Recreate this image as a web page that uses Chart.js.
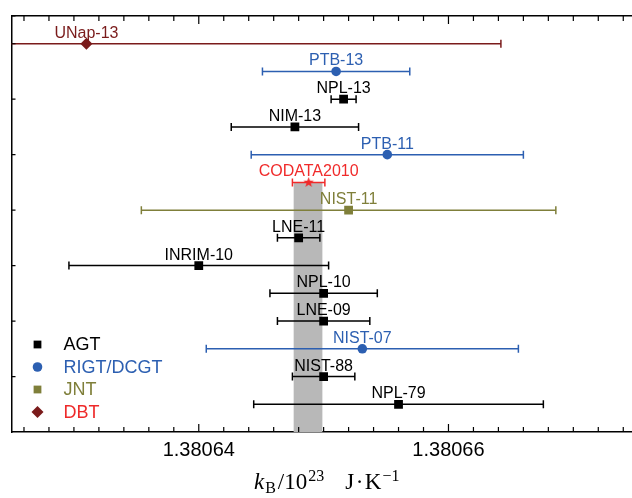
<!DOCTYPE html>
<html>
<head>
<meta charset="utf-8">
<script src="https://cdn.jsdelivr.net/npm/chart.js@4.4.1/dist/chart.umd.min.js"></script>
<style>
  html, body { margin: 0; padding: 0; background: #fff; overflow: hidden; }
  #wrap { width: 632px; height: 498px; }
</style>
</head>
<body>
<div id="wrap"><canvas id="chart" width="632" height="498"></canvas></div>
<script>
// measurements of the Boltzmann constant, top row first
const names = ['UNap-13', 'PTB-13', 'NPL-13', 'NIM-13', 'PTB-11', 'CODATA2010', 'NIST-11',
               'LNE-11', 'INRIM-10', 'NPL-10', 'LNE-09', 'NIST-07', 'NIST-88', 'NPL-79'];
const kB = [1.3806310, 1.3806510, 1.3806516, 1.3806477, 1.3806551, 1.3806488, 1.3806520,
            1.3806480, 1.3806400, 1.3806500, 1.3806500, 1.3806531, 1.3806500, 1.3806560];
const uKB = [0.0000332, 0.0000059, 0.0000010, 0.0000051, 0.0000109, 0.0000013, 0.0000166,
             0.0000017, 0.0000104, 0.0000043, 0.0000037, 0.0000125, 0.0000025, 0.0000116];
const methods = ['DBT', 'RIGT/DCGT', 'AGT', 'AGT', 'RIGT/DCGT', 'CODATA', 'JNT',
                 'AGT', 'AGT', 'AGT', 'AGT', 'RIGT/DCGT', 'AGT', 'AGT'];
const rowPos = [14, 13, 12, 11, 10, 9, 8, 7, 6, 5, 4, 3, 2, 1];
const legendNames = ['AGT', 'RIGT/DCGT', 'JNT', 'DBT'];
const xTickLabels = [1.38064, 1.38066];
const bandLo = 1.3806476, bandHi = 1.3806499;

const xMin = 1.380625, xMax = 1.3806747;
const fontSans = '"Liberation Sans", Arial, Helvetica, sans-serif';
const fontSerif = '"Liberation Serif", "Times New Roman", serif';

function makeStar(color, outer, inner) {
    const c = document.createElement('canvas');
    const s = Math.ceil(outer * 2) + 2;
    c.width = s; c.height = s;
    const g = c.getContext('2d');
    g.fillStyle = color;
    g.beginPath();
    for (let i = 0; i < 10; i++) {
        const r = i % 2 ? inner : outer;
        const a = -Math.PI / 2 + i * Math.PI / 5;
        g.lineTo(s / 2 + r * Math.cos(a), s / 2 + r * Math.sin(a));
    }
    g.closePath();
    g.fill();
    return c;
}

const methodStyle = {
    'AGT':       { color: '#000000', legendText: '#000000', shape: 'rect',    r: 6.2, lr: 5.5 },
    'RIGT/DCGT': { color: '#2c5fb1', legendText: '#2c5fb1', shape: 'circle',  r: 4.8, lr: 4.8 },
    'JNT':       { color: '#7f7f3a', legendText: '#7f7f3a', shape: 'rect',    r: 6.2, lr: 5.5 },
    'DBT':       { color: '#7a1b1b', legendText: '#ee2a2a', shape: 'rectRot', r: 6,   lr: 6 },
    'CODATA':    { color: '#f02a2a', legendText: '#f02a2a', shape: makeStar('#f02a2a', 5.5, 2.3), r: 5, lr: 5 }
};

const datasets = Object.keys(methodStyle).map(m => {
    const st = methodStyle[m];
    return {
        label: m,
        data: names.map((n, i) => ({ x: kB[i], y: rowPos[i], u: uKB[i], name: n, m: methods[i] }))
                   .filter(p => p.m === m),
        pointStyle: st.shape,
        pointRadius: st.r,
        pointBorderWidth: 0,
        backgroundColor: st.color,
        borderColor: st.color,
        showLine: false
    };
});

function isMajor(v) {
    return xTickLabels.find(t => Math.abs(v - t) < 1e-9);
}

const paint = {
    id: 'paint',
    beforeDatasetsDraw(chart) {
        const { ctx, chartArea: a, scales: { x, y } } = chart;
        ctx.save();
        ctx.beginPath();
        ctx.rect(a.left, a.top, a.right - a.left, a.bottom - a.top);
        ctx.clip();
        // CODATA band
        const bandRow = rowPos[methods.indexOf('CODATA')];
        const bx1 = x.getPixelForValue(bandLo), bx2 = x.getPixelForValue(bandHi);
        const by = y.getPixelForValue(bandRow);
        ctx.fillStyle = '#b8b8b8';
        ctx.fillRect(bx1, by, bx2 - bx1, y.getPixelForValue(0) - by);
        // error bars
        chart.data.datasets.forEach(ds => {
            ctx.strokeStyle = ds.borderColor;
            ctx.lineWidth = 1.5;
            ds.data.forEach(p => {
                const x1 = x.getPixelForValue(p.x - p.u);
                const x2 = x.getPixelForValue(p.x + p.u);
                const py = y.getPixelForValue(p.y);
                ctx.beginPath();
                ctx.moveTo(x1, py); ctx.lineTo(x2, py);
                ctx.moveTo(x1, py - 4); ctx.lineTo(x1, py + 4);
                ctx.moveTo(x2, py - 4); ctx.lineTo(x2, py + 4);
                ctx.stroke();
            });
        });
        ctx.restore();
    },
    afterDatasetsDraw(chart) {
        const { ctx, scales: { x, y } } = chart;
        ctx.save();
        ctx.font = '16px ' + fontSans;
        ctx.textAlign = 'center';
        ctx.textBaseline = 'alphabetic';
        chart.data.datasets.forEach(ds => {
            ctx.fillStyle = ds.borderColor;
            ds.data.forEach(p => {
                ctx.fillText(p.name, x.getPixelForValue(p.x), y.getPixelForValue(p.y) - 6);
            });
        });
        ctx.restore();
    },
    afterDraw(chart) {
        const { ctx, chartArea: a, scales: { x, y } } = chart;
        ctx.save();
        // inward ticks
        ctx.strokeStyle = '#000';
        ctx.lineWidth = 1.2;
        ctx.beginPath();
        x.ticks.forEach(t => {
            const px = x.getPixelForValue(t.value);
            const len = isMajor(t.value) ? 8 : 5;
            ctx.moveTo(px, a.bottom); ctx.lineTo(px, a.bottom - len);
            ctx.moveTo(px, a.top); ctx.lineTo(px, a.top + len);
        });
        y.ticks.forEach(t => {
            if (t.value <= 0) return;
            const py = y.getPixelForValue(t.value);
            ctx.moveTo(a.left, py); ctx.lineTo(a.left + 4, py);
        });
        ctx.stroke();

        // legend
        const lx = a.left + 26, ly0 = a.bottom - 87.5, step = 22.5;
        ctx.font = '18px ' + fontSans;
        ctx.textAlign = 'left';
        ctx.textBaseline = 'middle';
        legendNames.forEach((m, i) => {
            const st = methodStyle[m];
            const yy = ly0 + i * step;
            ctx.fillStyle = st.color;
            Chart.helpers.drawPoint(ctx, { pointStyle: st.shape, radius: st.lr, rotation: 0, borderWidth: 0 }, lx, yy);
            ctx.fillStyle = st.legendText;
            ctx.fillText(m, lx + 26, yy + 1);
        });

        // axis title: k_B/10^23 J.K^-1
        const parts = [
            { t: 'k', f: 'italic 23px ' + fontSerif, dy: 0, gap: 1 },
            { t: 'B', f: '16px ' + fontSerif, dy: 4, gap: 2 },
            { t: '/10', f: '23px ' + fontSerif, dy: 0, gap: 1 },
            { t: '23', f: '16px ' + fontSerif, dy: -8, gap: 21 },
            { t: 'J', f: '23px ' + fontSerif, dy: 0, gap: 1.5 },
            { t: '\u00b7', f: '23px ' + fontSerif, dy: 0, gap: 1.5 },
            { t: 'K', f: '23px ' + fontSerif, dy: 0, gap: 1 },
            { t: '\u22121', f: '16px ' + fontSerif, dy: -8, gap: 0 }
        ];
        let total = 0;
        parts.forEach(p => { ctx.font = p.f; p.w = ctx.measureText(p.t).width; total += p.w + p.gap; });
        let tx = 326.7 - total / 2;
        const base = 489;
        ctx.fillStyle = '#000';
        ctx.textBaseline = 'alphabetic';
        parts.forEach(p => {
            ctx.font = p.f;
            ctx.fillText(p.t, tx, base + p.dy);
            tx += p.w + p.gap;
        });
        ctx.restore();
    }
};

new Chart(document.getElementById('chart'), {
    type: 'scatter',
    data: { datasets: datasets },
    options: {
        responsive: false,
        animation: false,
        layout: { autoPadding: false, padding: { left: 11.5, right: 0, top: 0, bottom: 0 } },
        plugins: {
            legend: { display: false },
            tooltip: { enabled: false }
        },
        scales: {
            x: {
                type: 'linear',
                position: 'bottom',
                min: xMin,
                max: xMax,
                afterBuildTicks: scale => {
                    const ticks = [];
                    for (let n = 690313; n <= 690337; n++) ticks.push({ value: n * 2e-6 });
                    scale.ticks = ticks;
                },
                afterFit: scale => { scale.height = 66; },
                ticks: {
                    autoSkip: false,
                    maxRotation: 0,
                    padding: 0,
                    color: '#000',
                    font: { family: fontSans, size: 20, lineHeight: 1.8 },
                    callback: v => {
                        const t = isMajor(v);
                        return t !== undefined ? t.toFixed(5) : '';
                    }
                },
                grid: { display: false, drawTicks: false },
                border: { display: true, color: '#000', width: 1.5 }
            },
            x2: {
                type: 'linear',
                position: 'top',
                min: xMin,
                max: xMax,
                afterFit: scale => { scale.height = 16; },
                ticks: { display: false, padding: 0 },
                grid: { display: false, drawTicks: false },
                border: { display: true, color: '#000', width: 1.5 }
            },
            y: {
                type: 'linear',
                position: 'left',
                min: 0,
                max: 15,
                afterFit: scale => { scale.width = 0; },
                ticks: { display: false, stepSize: 2, padding: 0 },
                grid: { display: false, drawTicks: false },
                border: { display: true, color: '#000', width: 1.5 }
            }
        }
    },
    plugins: [paint]
});
</script>
</body>
</html>
